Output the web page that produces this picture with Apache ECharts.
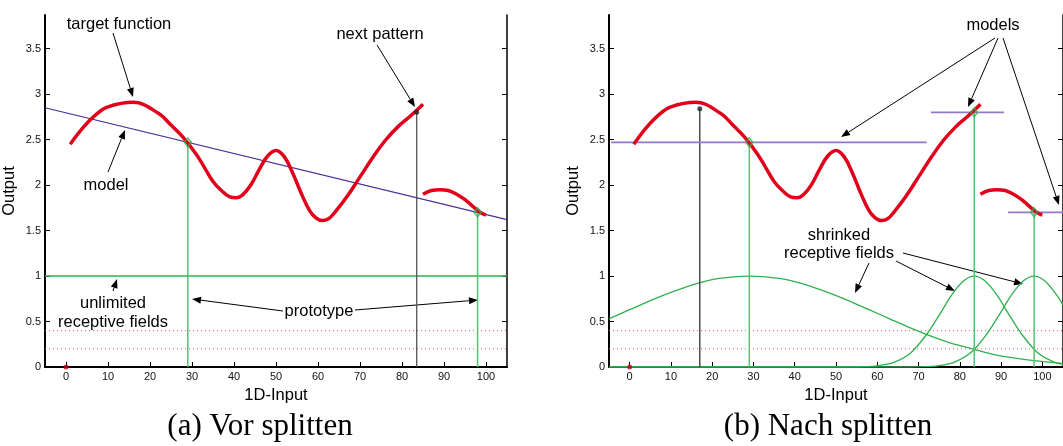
<!DOCTYPE html>
<html>
<head>
<meta charset="utf-8">
<script src="https://cdn.jsdelivr.net/npm/echarts@6.0.0/dist/echarts.min.js"></script>
<style>
  html, body { margin: 0; padding: 0; background: #fff; }
  #chart { width: 1063px; height: 446px; }
</style>
</head>
<body>
<div id="chart"></div>
<script>
// ticks
const xTicks = [0, 10, 20, 30, 40, 50, 60, 70, 80, 90, 100];
const yTicks = [0, 0.5, 1, 1.5, 2, 2.5, 3, 3.5];

// target function, two pieces
const targetX1 = [1, 4, 7, 10, 16, 22, 25, 28, 31, 33, 35, 37, 39, 40.5, 42, 44, 46, 48, 50, 52, 54, 56, 58, 59.5, 61, 62.5, 64, 67, 70, 73, 76, 79, 82, 85];
const targetY1 = [2.45, 2.63, 2.77, 2.86, 2.91, 2.79, 2.66, 2.52, 2.34, 2.19, 2.04, 1.94, 1.87, 1.86, 1.89, 2.00, 2.17, 2.32, 2.38, 2.31, 2.13, 1.91, 1.72, 1.64, 1.61, 1.63, 1.70, 1.88, 2.09, 2.30, 2.49, 2.64, 2.76, 2.89];
const targetX2 = [85, 87, 89, 91, 93, 95, 97, 99, 100];
const targetY2 = [1.90, 1.94, 1.95, 1.94, 1.90, 1.84, 1.76, 1.69, 1.67];

// reference levels (dotted)
const levelsY = [0.4, 0.2];

// (a) before split
const modelAX = [-5, 105];
const modelAY = [2.85, 1.62];
const fieldAY = 1;
const protoAX = [29, 98];
const protoAY = [2.47, 1.70];
const nextAX = 83.5, nextAY = 2.80;

// (b) after split
const modelsBX = [[-4.5, 72], [73, 90.7], [91.7, 105]];
const modelsBY = [2.47, 2.80, 1.70];
const protoBX = [29, 83.5, 98];
const protoBY = [2.47, 2.80, 1.70];
const nextBX = 17, nextBY = 2.84;

const field1X = [-5, 0, 5, 10, 15, 20, 25, 29, 33, 38, 43, 48, 53, 58, 63, 68, 73, 78, 83, 88, 93, 98, 105];
const field1Y = [0.53, 0.63, 0.73, 0.82, 0.90, 0.96, 0.99, 1.0, 0.99, 0.96, 0.90, 0.82, 0.73, 0.63, 0.53, 0.43, 0.34, 0.26, 0.20, 0.14, 0.10, 0.07, 0.04];
const field2X = [-5, 50, 56, 60, 64, 68, 72, 75, 78, 81, 83.5, 86, 89, 92, 95, 99, 103, 105];
const field2Y = [0, 0, 0.003, 0.013, 0.05, 0.15, 0.36, 0.57, 0.79, 0.95, 1.0, 0.95, 0.79, 0.57, 0.36, 0.15, 0.05, 0.03];
const field3X = [-5, 65, 70, 75, 79, 83, 86.5, 89.5, 92.5, 95.5, 98, 100.5, 103.5, 105];
const field3Y = [0, 0, 0.002, 0.016, 0.06, 0.17, 0.36, 0.57, 0.79, 0.95, 1.0, 0.95, 0.79, 0.68];

const FONT = '"Liberation Sans", Arial, sans-serif';
const SERIF = '"Liberation Serif", "Times New Roman", serif';
const RED = '#e0001b';
const GREEN = '#2fb04e';
const GREEN_LIGHT = '#55c271';
const PURPLE_A = '#4a2c9a';
const PURPLE_B = '#9478c8';
const DOTTED = '#e5546a';

const chart = echarts.init(document.getElementById('chart'));

function pts(xs, ys) { return xs.map((x, i) => [x, ys[i]]); }

function line(g, xs, ys, color, width, extra) {
  return Object.assign({
    type: 'line', xAxisIndex: g, yAxisIndex: g * 2,
    data: pts(xs, ys), symbol: 'none', showSymbol: false,
    silent: true, animation: false,
    lineStyle: { color: color, width: width }
  }, extra || {});
}

function dots(g, data, symbol, size, itemStyle) {
  return {
    type: 'scatter', xAxisIndex: g, yAxisIndex: g * 2, data: data,
    symbol: symbol, symbolSize: size, silent: true, animation: false,
    itemStyle: itemStyle, z: 5
  };
}

function common(g) {
  return levelsY.map(v => line(g, [-5, 105], [v, v], DOTTED, 1, {
    lineStyle: { color: DOTTED, width: 1, type: [1, 3] }
  }));
}

function target(g) {
  return [
    line(g, targetX1, targetY1, RED, 3.5, { smooth: 0.4, z: 4 }),
    line(g, targetX2, targetY2, RED, 3.5, { smooth: 0.4, z: 4 }),
    dots(g, [[0, 0]], 'circle', 5, { color: '#c8001a' })
  ];
}

const protoStyle = { color: 'rgba(255,255,255,0)', borderColor: GREEN, borderWidth: 1.5 };

const series = [];
// (a)
series.push(...common(0));
series.push(line(0, [-5, 105], [fieldAY, fieldAY], GREEN, 1.6));
protoAX.forEach((x, i) => series.push(line(0, [x, x], [0, protoAY[i]], GREEN_LIGHT, 1.5)));
series.push(line(0, [nextAX, nextAX], [0, nextAY], '#555', 1.3));
series.push(line(0, modelAX, modelAY, PURPLE_A, 1.1));
series.push(...target(0));
series.push(dots(0, pts(protoAX, protoAY), 'diamond', [7, 9], protoStyle));
series.push(dots(0, [[nextAX, nextAY]], 'circle', 5, { color: '#222' }));

// (b)
series.push(...common(1));
series.push(line(1, field1X, field1Y, GREEN, 1.3, { smooth: 0.3 }));
series.push(line(1, field2X, field2Y, GREEN, 1.3, { smooth: 0.3 }));
series.push(line(1, field3X, field3Y, GREEN, 1.3, { smooth: 0.3 }));
protoBX.forEach((x, i) => series.push(line(1, [x, x], [0, protoBY[i]], GREEN_LIGHT, 1.5)));
series.push(line(1, [nextBX, nextBX], [0, nextBY], '#333', 1.3));
modelsBX.forEach((xs, i) => series.push(line(1, xs, [modelsBY[i], modelsBY[i]], PURPLE_B, 1.8)));
series.push(...target(1));
series.push(dots(1, pts(protoBX, protoBY), 'diamond', [7, 9], protoStyle));
series.push(dots(1, [[nextBX, nextBY]], 'circle', 5, { color: '#222' }));

function xAxis(g) {
  return {
    gridIndex: g, type: 'value', min: -5, max: 105,
    name: '1D-Input', nameLocation: 'middle', nameGap: 12,
    nameTextStyle: { fontFamily: FONT, fontSize: 16.5, color: '#000' },
    axisLine: { onZero: false, lineStyle: { color: '#000', width: 2 } },
    axisTick: { inside: true, length: 5, lineStyle: { color: '#000' }, customValues: xTicks },
    axisLabel: { fontFamily: FONT, fontSize: 11, color: '#111', margin: 4, customValues: xTicks },
    splitLine: { show: false }
  };
}

function yAxes(g) {
  return [{
    gridIndex: g, type: 'value', min: 0, max: 3.87, position: 'left',
    name: 'Output', nameLocation: 'middle', nameGap: 27, nameRotate: 90,
    nameTextStyle: { fontFamily: FONT, fontSize: 16.5, color: '#000' },
    axisLine: { show: true, onZero: false, lineStyle: { color: '#000', width: 2 } },
    axisTick: { inside: true, length: 5, lineStyle: { color: '#000' }, customValues: yTicks },
    axisLabel: { fontFamily: FONT, fontSize: 11, color: '#111', margin: 4, customValues: yTicks },
    splitLine: { show: false }
  }, {
    gridIndex: g, type: 'value', min: 0, max: 3.87, position: 'right',
    axisLine: { show: true, onZero: false, lineStyle: { color: '#000', width: 1.5 } },
    axisTick: { show: true, inside: true, length: 5, lineStyle: { color: '#000' }, customValues: yTicks },
    axisLabel: { show: false, customValues: yTicks },
    splitLine: { show: false }
  }];
}

// annotation arrows, pixel positions
function arrow(x1, y1, x2, y2) {
  const a = Math.atan2(y2 - y1, x2 - x1);
  const L = 9, W = 3.5;
  const bx = x2 - L * Math.cos(a), by = y2 - L * Math.sin(a);
  const px = -Math.sin(a), py = Math.cos(a);
  return [
    { type: 'line', silent: true, shape: { x1: x1, y1: y1, x2: bx, y2: by }, style: { stroke: '#000', lineWidth: 1 } },
    { type: 'polygon', silent: true, shape: { points: [[x2, y2], [bx + W * px, by + W * py], [bx - W * px, by - W * py]] }, style: { fill: '#000' } }
  ];
}

function label(text, x, y, size, family) {
  return {
    type: 'text', x: x, y: y, silent: true,
    style: { text: text, fontFamily: family || FONT, fontSize: size || 16.5, fill: '#000', align: 'center', verticalAlign: 'middle' }
  };
}

const graphic = [
  label('target function', 119, 24),
  label('model', 106, 185),
  label('next pattern', 380, 34),
  label('unlimited', 113, 303),
  label('receptive fields', 113, 322),
  label('prototype', 319, 311),
  label('models', 993, 25),
  label('shrinked', 839, 235),
  label('receptive fields', 839, 253),
  label('(a) Vor splitten', 260, 427, 31, SERIF),
  label('(b) Nach splitten', 828, 427, 31, SERIF),
  ...arrow(113, 33, 133, 97),
  ...arrow(108, 172, 125, 130),
  ...arrow(377, 45, 415, 107),
  ...arrow(113, 291, 117, 279),
  ...arrow(283, 311, 192, 299),
  ...arrow(355, 310, 478, 300),
  ...arrow(995, 38, 841, 137),
  ...arrow(998, 38, 968, 107),
  ...arrow(1003, 38, 1059, 205),
  ...arrow(869, 263, 855, 293),
  ...arrow(896, 261, 955, 291),
  ...arrow(903, 253, 1023, 284)
];

chart.setOption({
  animation: false,
  backgroundColor: '#fff',
  grid: [
    { left: 45, top: 15, width: 462, height: 352 },
    { left: 609, top: 15, width: 462, height: 352 }
  ],
  xAxis: [xAxis(0), xAxis(1)],
  yAxis: [...yAxes(0), ...yAxes(1)],
  series: series,
  graphic: graphic
});
</script>
</body>
</html>
